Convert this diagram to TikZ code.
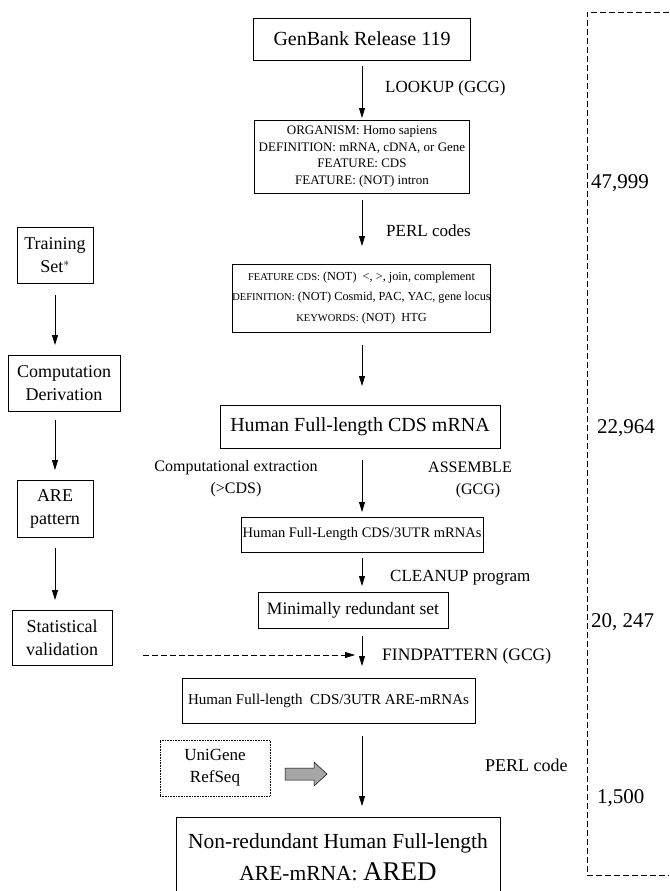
\documentclass[tikz,border=0pt]{standalone}
\usepackage{fontspec}
\setmainfont{Liberation Serif}
\usetikzlibrary{arrows.meta}
\newcommand{\fsz}[1]{\fontsize{#1}{#1}\selectfont}
\tikzset{
  box/.style={draw, line width=0.8pt, align=center, inner sep=0pt},
  arr/.style={-{Triangle[length=10pt,width=6pt]}, line width=0.8pt},
  lab/.style={align=center, inner sep=0pt, font=\fsz{17}},
  num/.style={anchor=west, inner sep=0pt, font=\fsz{21}},
  lbox/.style={box, font=\fsz{18}},
  longdash/.style={dash pattern=on 6pt off 3pt},
}
\begin{document}
\begin{tikzpicture}[x=1pt,y=-1pt]
\useasboundingbox (0,0) rectangle (669,891);
% main column
\node[box, minimum width=217pt, minimum height=42pt, font=\fsz{20}] (gb) at (362,39) {GenBank Release 119};
\node[box, minimum width=215pt, minimum height=73pt, font=\fsz{13}] (org) at (362,156.5)
  {ORGANISM: Homo sapiens\\[3.5pt] DEFINITION: mRNA, cDNA, or Gene\\[3.5pt] FEATURE: CDS\\[3.5pt] FEATURE: (NOT) intron};
\node[box, minimum width=257pt, minimum height=68pt, font=\fsz{12.3}] (flt) at (361.5,298)
  {{\fsz{10.5}FEATURE CDS:} (NOT)\ \ <, >, join, complement\\[8pt]
   {\fsz{10.5}DEFINITION:} (NOT) Cosmid, PAC, YAC, gene locus\\[8pt]
   {\fsz{10.5}KEYWORDS:} (NOT)\ \ HTG};
\node[box, minimum width=280pt, minimum height=43pt, font=\fsz{20}] (cds) at (360,426.5) {Human Full-length CDS mRNA};
\node[box, minimum width=242pt, minimum height=35pt, font=\fsz{14.5}] (utr) at (362,534.5) {Human Full-Length CDS/3UTR mRNAs};
\node[box, minimum width=190pt, minimum height=36pt, font=\fsz{17.5}] (min) at (353,610) {Minimally redundant set};
\node[box, minimum width=293pt, minimum height=45pt, font=\fsz{15}] (are) at (328.5,700.5) {Human Full-length\ \ CDS/3UTR ARE-mRNAs};
\node[box, minimum width=324pt, minimum height=80pt, align=center] (ared) at (338,857)
  {\fsz{21.5}Non-redundant Human Full-length\\[9pt]\fsz{21.5}ARE-mRNA: {\fsz{27}ARED}};
\node[draw, densely dotted, line width=0.6pt, minimum width=110pt, minimum height=56pt, align=center, inner sep=0pt, font=\fsz{17}] (uni) at (215,768) {UniGene\\[5pt]RefSeq};
% grey block arrow
\draw[line width=0.5pt, fill=gray!70] (285,768) -- (314,768) -- (314,762) -- (327,774) -- (314,786) -- (314,780) -- (285,780) -- cycle;

% arrow coordinates
\coordinate (a1s) at (362,66); \coordinate (a1e) at (362,118);
\coordinate (a2s) at (362,200); \coordinate (a2e) at (362,246);
\coordinate (a3s) at (362,345); \coordinate (a3e) at (362,386);
\coordinate (a4s) at (362,460); \coordinate (a4e) at (362,512);
\coordinate (a5s) at (362,558); \coordinate (a5e) at (362,586);
\coordinate (a6s) at (362,636); \coordinate (a6e) at (362,666);
\coordinate (a7s) at (362,736); \coordinate (a7e) at (362,806);
\draw[arr] (a1s) -- (a1e);
\draw[arr] (a2s) -- (a2e);
\draw[arr] (a3s) -- (a3e);
\draw[arr] (a4s) -- (a4e);
\draw[arr] (a5s) -- (a5e);
\draw[arr] (a6s) -- (a6e);
\draw[arr] (a7s) -- (a7e);

% arrow labels
\node[lab, anchor=west] (l1) at (385,88) {LOOKUP (GCG)};
\node[lab, anchor=west] (l2) at (386,231) {PERL codes};
\node[lab, font=\fsz{16}] (l3) at (236,479) {Computational extraction\\[6pt](>CDS)};
\node[lab, font=\fsz{16}] (l4) at (470,480) {ASSEMBLE\\[6pt]\hspace*{16pt}(GCG)};
\node[lab, anchor=west] (l5) at (390,578) {CLEANUP program};
\node[lab, anchor=west, font=\fsz{17.5}] (l6) at (382,656) {FINDPATTERN (GCG)};
\node[lab, anchor=west, font=\fsz{18}] (l7) at (485,765) {PERL code};

% left column
\node[lbox, minimum width=76pt, minimum height=56pt] (tr) at (55,255) {Training\\[5pt]Set$^{*}$};
\node[lbox, minimum width=112pt, minimum height=56pt] (cd) at (64,383) {Computation\\[5pt]Derivation};
\node[lbox, minimum width=76pt, minimum height=57pt] (ap) at (55,508.5) {ARE\\[5pt]pattern};
\node[lbox, minimum width=100pt, minimum height=55pt] (sv) at (62,637.5) {Statistical\\[5pt]validation};
\coordinate (t1) at (55,295); \coordinate (t2) at (55,345);
\coordinate (t3) at (55,420); \coordinate (t4) at (55,470);
\coordinate (t5) at (55,548); \coordinate (t6) at (55,600);
\draw[arr] (t1) -- (t2);
\draw[arr] (t3) -- (t4);
\draw[arr] (t5) -- (t6);
\coordinate (dstart) at (143,655); \coordinate (dend) at (355,655);
\draw[arr, longdash] (dstart) -- (dend);

% dashed bracket and counts
\coordinate (bt) at (587,12); \coordinate (bb) at (587,875);
\draw[longdash, line width=0.7pt] (669,12) -- (bt) -- (bb) -- (669,875);
\node[num] (n1) at (591,183) {47,999};
\node[num] (n2) at (597,428) {22,964};
\node[num] (n3) at (591,622) {20, 247};
\node[num] (n4) at (597,798) {1,500};
\end{tikzpicture}
\end{document}
